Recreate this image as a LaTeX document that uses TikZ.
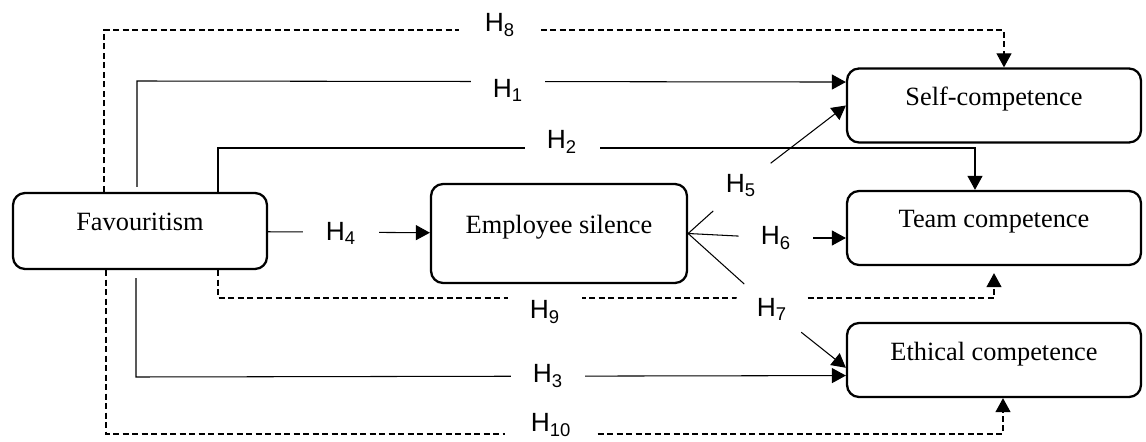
\documentclass[tikz,border=0pt]{standalone}
\usepackage{fontspec}
\newfontfamily\boxfont{Liberation Serif}
\newfontfamily\hypfont{Liberation Sans}
\usetikzlibrary{arrows.meta,calc}

\tikzset{
    box/.style={draw, rounded corners=0.24cm, line width=1.3pt, inner sep=0pt,
        text height=10pt, text depth=10pt, font=\boxfont\fontsize{15}{18}\selectfont},
    line/.style={line width=0.6pt},
    dashline/.style={line width=0.6pt, dash pattern=on 0.12cm off 0.07cm},
    tip/.style={-{Triangle[length=0.28cm, width=0.3cm]}},
    hyp/.style={font=\hypfont\fontsize{15}{17}\selectfont, inner sep=0pt},
    hypgap/.style={hyp, fill=white, minimum height=1cm},
}

\begin{document}
\begin{tikzpicture}[x=0.02cm, y=-0.02cm]
        \useasboundingbox (0,0) rectangle (1146,442);

        % Left and middle boxes
        \node[box, minimum width=5.08cm, minimum height=1.52cm] (fav) at (140,231) {Favouritism};
        \node[box, minimum width=5.12cm, minimum height=1.98cm] (sil) at (559,233.5) {Employee silence};

        % Outcome boxes
        \foreach \n/\y/\t in {self/105.5/Self-competence, team/228/Team competence, eth/360/Ethical competence} {
            \node[box, minimum width=5.88cm, minimum height=1.48cm] (\n) at (994,\y) {\t};
        }

        % Corners of the long paths
        \coordinate (c8) at (104,30);
        \coordinate (c1) at (137,81);
        \coordinate (c2) at (218,148);
        \coordinate (c9) at (218,298);
        \coordinate (c3) at (136,377);
        \coordinate (c10) at (106,434);

        % Direct paths from favouritism
        \draw[dashline, tip] (fav.north -| c8) -- (c8) -| ($(self.north)+(10,0)$);
        \draw[line, tip, shorten <=0.1cm] (fav.north -| c1) -- (c1) -- (self.171);
        \draw[line, tip] (fav.north -| c2) -- (c2) -| ($(team.north)+(-19,0)$);
        \draw[line, tip] (fav) -- (sil);
        \draw[dashline, tip, shorten >=0.14cm] (fav.south -| c9) -- (c9) -| (team.south);
        \draw[line, tip, shorten <=0.16cm] (fav.south -| c3) -- (c3) -- (eth.186);
        \draw[dashline, tip] (fav.south -| c10) -- (c10) -| ($(eth.south)+(9,0)$);

        % Labels of the paths out of employee silence
        \foreach \n/\x/\y/\f in {5/741/186/none, 6/776/238/none, 7/772/309/white} {
            \node[hyp, circle, fill=\f, minimum size=1.48cm] (h\n) at (\x,\y) {H\textsubscript{\n}};
        }

        % Paths from employee silence
        \foreach \i in {5,6,7} {
            \draw[line] (sil.east) -- (h\i);
        }
        \draw[line, tip] (h5) -- (self.west);
        \draw[line, tip] (h6) -- (h6 -| team.west);
        \draw[line, tip] (h7) -- (eth.183);

        % Labels that break the long paths
        \foreach \n/\x/\y/\w in {8/500/25/1.64, 1/508/90/1.5, 2/562/142/1.5, 4/341/233/1.52, 9/545/312/1.5, 3/548/376/1.5, 10/551/425/1.84} {
            \node[hypgap, minimum width=\w cm] (h\n) at (\x,\y) {H\textsubscript{\n}};
        }
    \end{tikzpicture}
\end{document}
